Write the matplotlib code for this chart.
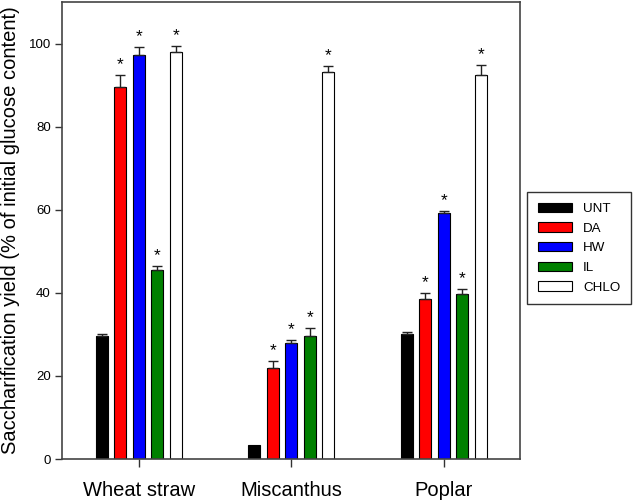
import numpy as np
import matplotlib.pyplot as plt

plt.rcParams["font.family"] = ["Liberation Sans", "DejaVu Sans"]

groups = ["Wheat straw", "Miscanthus", "Poplar"]
treatments = ["UNT", "DA", "HW", "IL", "CHLO"]
colors = ["#000000", "#ff0000", "#0000ff", "#008000", "#ffffff"]

# yield per treatment, one value per group (Wheat straw, Miscanthus, Poplar)
unt = [29.5, 3.3, 30.0]
da = [89.6, 22.0, 38.5]
hw = [97.2, 27.9, 59.2]
il = [45.5, 29.5, 39.8]
chlo = [98.0, 93.1, 92.5]

unt_err = [0.5, 0.0, 0.6]
da_err = [2.8, 1.6, 1.4]
hw_err = [1.9, 0.8, 0.6]
il_err = [0.9, 2.0, 1.1]
chlo_err = [1.4, 1.4, 2.4]

# significance marks (True -> asterisk above bar)
unt_sig = [False, False, False]
da_sig = [True, True, True]
hw_sig = [True, True, True]
il_sig = [True, True, True]
chlo_sig = [True, True, True]

values = [unt, da, hw, il, chlo]
errors = [unt_err, da_err, hw_err, il_err, chlo_err]
sigs = [unt_sig, da_sig, hw_sig, il_sig, chlo_sig]

fig = plt.figure(figsize=(6.38, 5.0), dpi=100)
ax = fig.add_axes([0.097, 0.082, 0.718, 0.914])

x = np.arange(len(groups))
width = 0.079
step = 0.121

for i, (name, vals, errs, sig, col) in enumerate(zip(treatments, values, errors, sigs, colors)):
    pos = x + (i - 2) * step
    ax.bar(pos, vals, width, color=col, edgecolor="black", linewidth=0.8, label=name, zorder=2)
    e = np.array(errs)
    show = e > 0
    ax.errorbar(pos[show], np.array(vals)[show], yerr=[np.zeros(show.sum()), e[show]],
                fmt="none", ecolor="#222222", elinewidth=1.0, capsize=3.3, capthick=1.0, zorder=3)
    for p, v, er, s in zip(pos, vals, errs, sig):
        if s:
            ax.annotate("*", (p, v + er), xytext=(0, 2), textcoords="offset points",
                        ha="center", va="bottom", fontsize=12.5)

ax.set_xlim(-0.505, 2.5)
ax.set_ylim(0, 110)
ax.set_yticks([0, 20, 40, 60, 80, 100])
ax.set_xticks(x)
ax.set_xticklabels(groups, fontsize=14.5)
ax.tick_params(axis="y", direction="out", length=5, width=1, labelsize=9.5, color="#333333", pad=3)
ax.tick_params(axis="x", direction="out", length=6, width=1, color="#333333", pad=10)
for sp in ax.spines.values():
    sp.set_color("#444444")
    sp.set_linewidth(1.2)
ax.set_ylabel("Saccharification yield (% of initial glucose content)", fontsize=14.5, labelpad=6)

leg = fig.legend(loc="upper left", bbox_to_anchor=(0.826, 0.616), borderaxespad=0,
                 fontsize=9.6, handlelength=2.6, handleheight=0.7, labelspacing=0.55,
                 handletextpad=0.8, borderpad=0.8, fancybox=False, framealpha=1)
leg.get_frame().set_edgecolor("#333333")
leg.get_frame().set_linewidth(1.0)

fig.savefig("out.png", dpi=100)
